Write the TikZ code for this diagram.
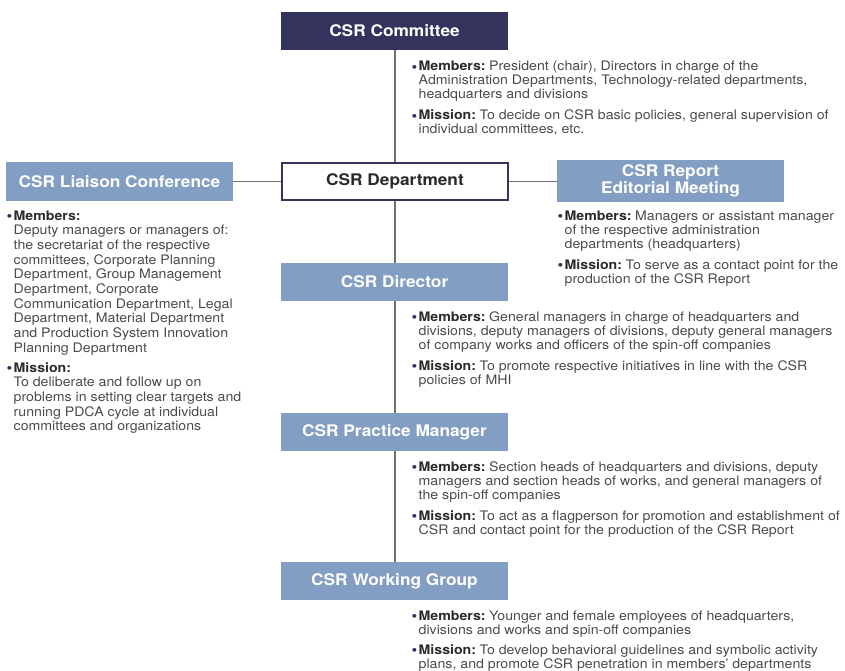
\documentclass[tikz,border=0pt]{standalone}
\usepackage{fontspec}
\setmainfont{TeX Gyre Heros}[FakeStretch=1.08]
\definecolor{navy}{HTML}{34335E}
\definecolor{lightblue}{HTML}{829EC3}
\definecolor{bodygray}{HTML}{4A4A4A}
\definecolor{labelgray}{HTML}{2A2A2A}
\definecolor{linegray}{HTML}{707070}
\newcommand{\bul}{\makebox[6.5pt][l]{\hspace*{-0.6pt}\raisebox{-1.2pt}{\textcolor{navy}{\fontsize{15}{15}\selectfont\char"2022}}}}
\newcommand{\itm}[2]{\bul\parbox[t]{470pt}{\textbf{\color{labelgray}#1}\hspace{3.6pt}#2}}
\begin{document}
\begin{tikzpicture}[x=1pt,y=-1pt,
  hbox/.style={rectangle, minimum width=227pt, minimum height=38pt, inner sep=0pt,
    font=\fontsize{16}{17}\selectfont\bfseries, text=white, align=center},
  darkbox/.style={hbox, fill=navy},
  lightbox/.style={hbox, fill=lightblue},
  deptbox/.style={hbox, fill=white, draw=navy, line width=2pt, minimum width=226pt,
    minimum height=37pt, text=labelgray},
  txt/.style={inner sep=0pt, anchor=base west, text=bodygray,
    font=\fontsize{13.1}{14}\selectfont},
  ltxt/.style={txt, font=\fontsize{13.1}{14.7}\selectfont},
  conn/.style={draw=linegray, line width=1.1pt}]
\useasboundingbox (0,0) rectangle (845,671);

% boxes
\node[darkbox] (com) at (394.5,31) {CSR Committee};
\node[deptbox] (dep) at (395,181.5) {CSR Department};
\node[lightbox] (lia) at (119.5,181.5) {CSR Liaison Conference};
\node[lightbox, minimum height=42pt, font=\fontsize{16}{16.5}\selectfont\bfseries] (edi) at (670.5,181) {CSR Report\\Editorial Meeting};
\node[lightbox] (dir) at (394.5,282) {CSR Director};
\node[lightbox] (pra) at (394.5,432) {CSR Practice Manager};
\node[lightbox] (wor) at (394.5,581) {CSR Working Group};

% connectors
\draw[conn] (com.south -| dep.north) -- (dep.north);
\draw[conn] (dep.south) -- (dir.north -| dep.south);
\draw[conn] (dir.south -| dep.south) -- (pra.north -| dep.south);
\draw[conn] (pra.south -| dep.south) -- (wor.north -| dep.south);
\draw[conn] (lia.east) -- (dep.west);
\draw[conn] (dep.east) -- (edi.west |- dep.east);

% committee
\node[txt] (comM) at (412,71) {\itm{Members:}{President (chair), Directors in charge of the\\Administration Departments, Technology-related departments,\\headquarters and divisions}};
\node[txt] (comI) at (412,120) {\itm{Mission:}{To decide on CSR basic policies, general supervision of\\individual committees, etc.}};

% liaison
\node[ltxt] (liaM) at (7,220) {\itm{Members:}{\\Deputy managers or managers of:\\the secretariat of the respective\\committees, Corporate Planning\\Department, Group Management\\Department, Corporate\\Communication Department, Legal\\Department, Material Department\\and Production System Innovation\\Planning Department}};
\node[ltxt] (liaI) at (7,372) {\itm{Mission:}{\\To deliberate and follow up on\\problems in setting clear targets and\\running PDCA cycle at individual\\committees and organizations}};

% editorial
\node[txt] (ediM) at (558,220) {\itm{Members:}{Managers or assistant manager\\of the respective administration\\departments (headquarters)}};
\node[txt] (ediI) at (558,269) {\itm{Mission:}{To serve as a contact point for the\\production of the CSR Report}};

% director
\node[txt] (dirM) at (412,321) {\itm{Members:}{General managers in charge of headquarters and\\divisions, deputy managers of divisions, deputy general managers\\of company works and officers of the spin-off companies}};
\node[txt] (dirI) at (412,370) {\itm{Mission:}{To promote respective initiatives in line with the CSR\\policies of MHI}};

% practice manager
\node[txt] (praM) at (412,471) {\itm{Members:}{Section heads of headquarters and divisions, deputy\\managers and section heads of works, and general managers of\\the spin-off companies}};
\node[txt] (praI) at (412,520) {\itm{Mission:}{To act as a flagperson for promotion and establishment of\\CSR and contact point for the production of the CSR Report}};

% working group
\node[txt] (worM) at (412,620) {\itm{Members:}{Younger and female employees of headquarters,\\divisions and works and spin-off companies}};
\node[txt] (worI) at (412,654.5) {\itm{Mission:}{To develop behavioral guidelines and symbolic activity\\plans, and promote CSR penetration in members' departments}};
\end{tikzpicture}
\end{document}
